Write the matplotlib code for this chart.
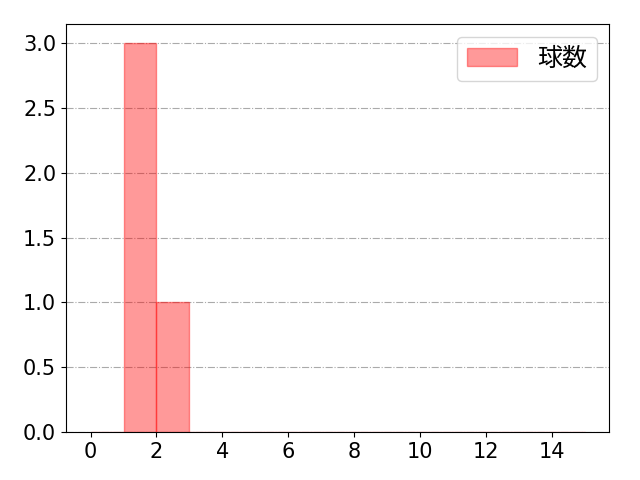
import matplotlib
matplotlib.use('Agg')
import matplotlib.pyplot as plt

plt.rcParams['font.family'] = ['DejaVu Sans', 'Noto Sans CJK JP']

# histogram bins (edges) and counts per bin
bin_edges = list(range(0, 16))
counts = [0, 3, 1, 0, 0, 0, 0, 0, 0, 0, 0, 0, 0, 0, 0]
label = '球数'

fig, ax = plt.subplots(figsize=(6.4, 4.8), dpi=100)
ax.hist(bin_edges[:-1], bins=bin_edges, weights=counts,
        color='red', alpha=0.4, edgecolor='red', label=label)
ax.grid(axis='y', linestyle='-.', color='#aaaaaa', linewidth=0.8)
ax.set_axisbelow(True)
ax.set_xticks(range(0, 15, 2))
ax.tick_params(labelsize=15)
ax.legend(fontsize=18, loc='upper right')

fig.subplots_adjust(left=0.103, right=0.952, top=0.95, bottom=0.1)
plt.savefig('out.png', dpi=100)
